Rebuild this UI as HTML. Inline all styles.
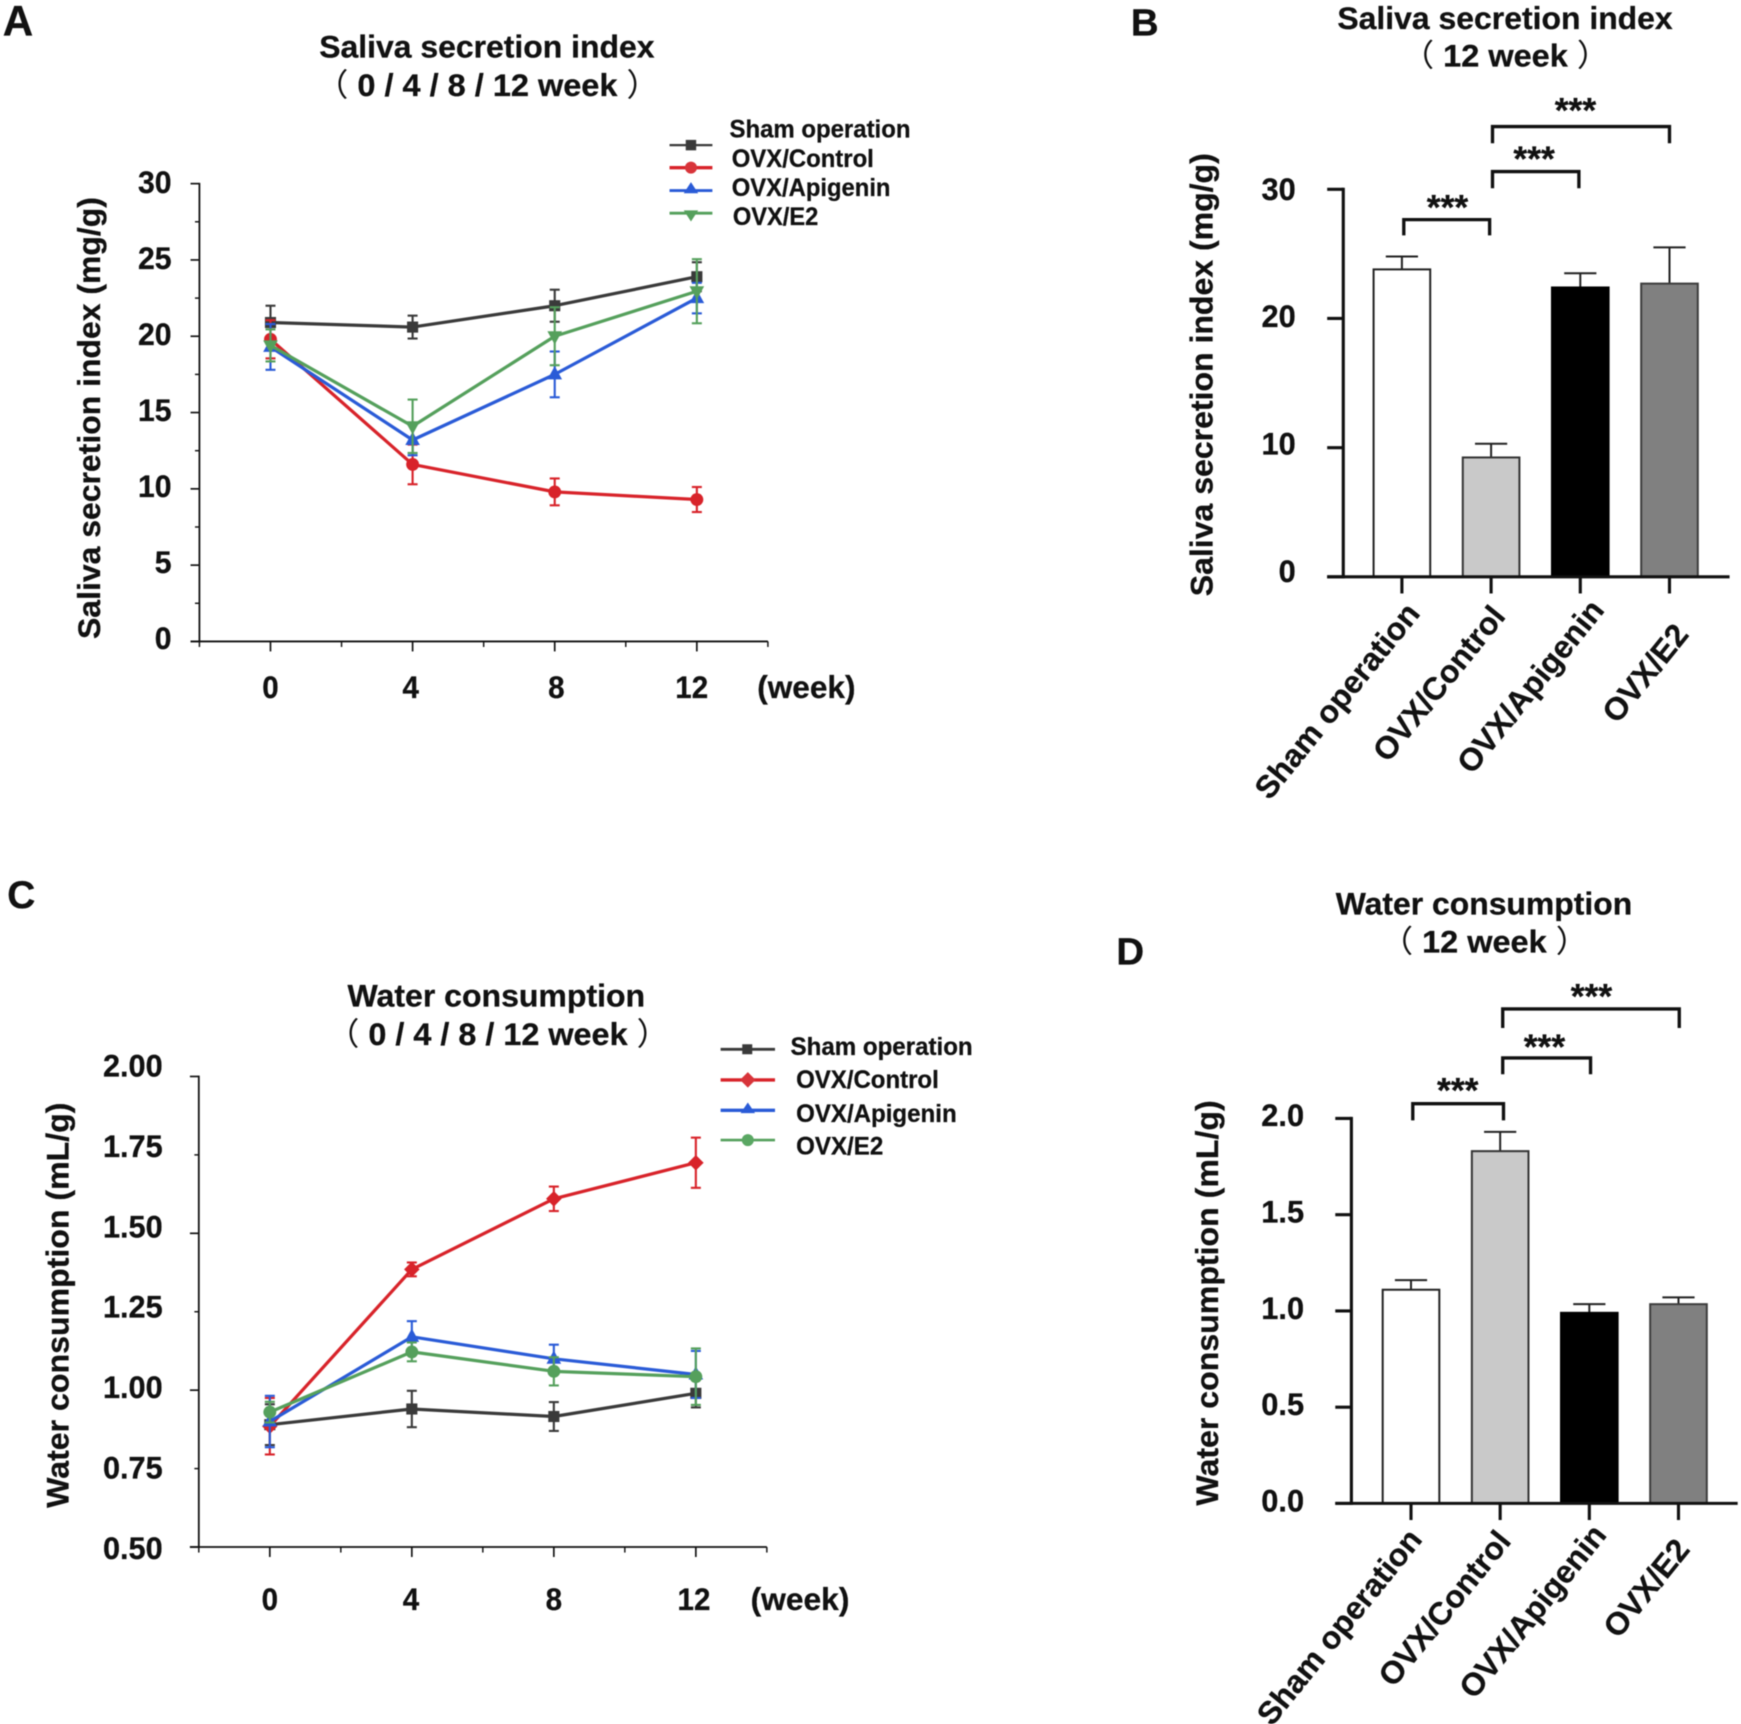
<!DOCTYPE html>
<html lang="en">
<head>
<meta charset="utf-8">
<title>Saliva secretion and water consumption</title>
<style>
html,body{margin:0;padding:0;background:#fff;}
body{width:1741px;height:1724px;overflow:hidden;}
svg{display:block;filter:blur(0.45px);}
text{font-family:"Liberation Sans","Noto Sans CJK SC",sans-serif;font-weight:bold;fill:#111;stroke:#111;stroke-width:0.25;}
tspan.paren{font-weight:normal;stroke:none;}
</style>
</head>
<body>
<svg id="figure" xmlns="http://www.w3.org/2000/svg" width="1741" height="1724" viewBox="0 0 1568 1552.7">
  <rect width="1568" height="1552.7" fill="#fff"/>

  <!-- Panel A -->
  <g id="panelA">
    <text x="2.5" y="32" font-size="38">A</text>
    <text x="287.5" y="52" font-size="28.5" textLength="302" lengthAdjust="spacingAndGlyphs">Saliva secretion index</text>
    <text x="284.5" y="86.5" font-size="28.5" textLength="309" lengthAdjust="spacingAndGlyphs"><tspan class="paren">（</tspan> 0 / 4 / 8 / 12 week <tspan class="paren">）</tspan></text>
    <text transform="translate(90 575.5) rotate(-90)" font-size="28.5" textLength="398" lengthAdjust="spacingAndGlyphs">Saliva secretion index (mg/g)</text>
    <text x="682" y="628.5" font-size="28" textLength="88.5" lengthAdjust="spacingAndGlyphs">(week)</text>
    <g>
      <g>
        <line x1="603" x2="641.6" y1="130.7" y2="130.7" stroke="#3a3a3a" stroke-width="2"/>
        <rect x="617.6" y="126" width="9.4" height="9.4" fill="#3a3a3a"/>
        <text x="657" y="124" font-size="22.5" textLength="163" lengthAdjust="spacingAndGlyphs">Sham operation</text>
      </g>
      <g>
        <line x1="603" x2="641.6" y1="151" y2="151" stroke="#d8232a" stroke-width="3"/>
        <circle cx="622.3" cy="151" r="5.4" fill="#d8343a"/>
        <text x="659" y="150.5" font-size="22.5" textLength="128" lengthAdjust="spacingAndGlyphs">OVX/Control</text>
      </g>
      <g>
        <line x1="603" x2="641.6" y1="171.6" y2="171.6" stroke="#2a5bd7" stroke-width="2.6"/>
        <path d="M622.3 164 L628.8 174 L615.8 174 Z" fill="#2a5bd7"/>
        <text x="659" y="176.5" font-size="22.5" textLength="143" lengthAdjust="spacingAndGlyphs">OVX/Apigenin</text>
      </g>
      <g>
        <line x1="603" x2="641.6" y1="192" y2="192" stroke="#55a05c" stroke-width="2.6"/>
        <path d="M622.3 199.5 L628.8 189.5 L615.8 189.5 Z" fill="#55a05c"/>
        <text x="660" y="202.6" font-size="22.5" textLength="77" lengthAdjust="spacingAndGlyphs">OVX/E2</text>
      </g>
    </g>
  </g>

  <!-- Panel B -->
  <g id="panelB">
    <text x="1018.5" y="32" font-size="34" textLength="25" lengthAdjust="spacingAndGlyphs">B</text>
    <text x="1204.5" y="26" font-size="28" textLength="302" lengthAdjust="spacingAndGlyphs">Saliva secretion index</text>
    <text x="1262.4" y="60" font-size="28" textLength="187" lengthAdjust="spacingAndGlyphs"><tspan class="paren">（</tspan> 12 week <tspan class="paren">）</tspan></text>
    <text transform="translate(1092 537) rotate(-90)" font-size="28.5" textLength="399" lengthAdjust="spacingAndGlyphs">Saliva secretion index (mg/g)</text>
    <text transform="translate(1280 553) rotate(-51)" text-anchor="end" font-size="28.5" textLength="217" lengthAdjust="spacingAndGlyphs">Sham operation</text>
    <text transform="translate(1357 555.6) rotate(-51)" text-anchor="end" font-size="28.5" textLength="170" lengthAdjust="spacingAndGlyphs">OVX/Control</text>
    <text transform="translate(1446 550) rotate(-51)" text-anchor="end" font-size="28.5" textLength="191" lengthAdjust="spacingAndGlyphs">OVX/Apigenin</text>
    <text transform="translate(1522 572) rotate(-51)" text-anchor="end" font-size="28.5" textLength="104" lengthAdjust="spacingAndGlyphs">OVX/E2</text>
    <g fill="none" stroke="#111" stroke-width="3">
      <path d="M1264.3 212 V197.8 H1341.6 V212"/>
      <path d="M1344.2 169.6 V154.5 H1422 V169.6"/>
      <path d="M1344.2 129 V114 H1503.6 V129"/>
    </g>
    <text x="1303.7" y="197.5" text-anchor="middle" font-size="32">***</text>
    <text x="1381.7" y="154" text-anchor="middle" font-size="32">***</text>
    <text x="1418.9" y="110.5" text-anchor="middle" font-size="32">***</text>
  </g>

  <!-- Panel C -->
  <g id="panelC">
    <text x="6.5" y="818" font-size="35">C</text>
    <text x="313" y="906.3" font-size="28.5" textLength="268" lengthAdjust="spacingAndGlyphs">Water consumption</text>
    <text x="294.5" y="941" font-size="28.5" textLength="308" lengthAdjust="spacingAndGlyphs"><tspan class="paren">（</tspan> 0 / 4 / 8 / 12 week <tspan class="paren">）</tspan></text>
    <text transform="translate(61.5 1358) rotate(-90)" font-size="28.5" textLength="365" lengthAdjust="spacingAndGlyphs">Water consumption (mL/g)</text>
    <text x="676" y="1450" font-size="28" textLength="89" lengthAdjust="spacingAndGlyphs">(week)</text>
    <g>
      <g>
        <line x1="649" x2="698" y1="945" y2="945" stroke="#3a3a3a" stroke-width="2.6"/>
        <rect x="668.5" y="940.5" width="9" height="9" fill="#3a3a3a"/>
        <text x="712" y="950" font-size="22.5" textLength="164" lengthAdjust="spacingAndGlyphs">Sham operation</text>
      </g>
      <g>
        <line x1="649" x2="698" y1="972.6" y2="972.6" stroke="#d8232a" stroke-width="3"/>
        <path d="M673.5 965.6 L680.5 972.6 L673.5 979.6 L666.5 972.6 Z" fill="#d8343a"/>
        <text x="717" y="979.8" font-size="22.5" textLength="128.5" lengthAdjust="spacingAndGlyphs">OVX/Control</text>
      </g>
      <g>
        <line x1="649" x2="698" y1="1000" y2="1000" stroke="#2a5bd7" stroke-width="3"/>
        <path d="M673.5 993 L680 1002.5 L667 1002.5 Z" fill="#2a5bd7"/>
        <text x="717" y="1010.7" font-size="22.5" textLength="144.6" lengthAdjust="spacingAndGlyphs">OVX/Apigenin</text>
      </g>
      <g>
        <line x1="649" x2="698" y1="1026.8" y2="1026.8" stroke="#55a05c" stroke-width="2.4"/>
        <circle cx="673.5" cy="1026.8" r="5.4" fill="#5aa763"/>
        <text x="717" y="1040" font-size="22.5" textLength="78.5" lengthAdjust="spacingAndGlyphs">OVX/E2</text>
      </g>
    </g>
  </g>

  <!-- Panel D -->
  <g id="panelD">
    <text x="1005.5" y="868.5" font-size="34" textLength="25" lengthAdjust="spacingAndGlyphs">D</text>
    <text x="1203" y="823.8" font-size="28" textLength="267" lengthAdjust="spacingAndGlyphs">Water consumption</text>
    <text x="1243.4" y="858" font-size="28" textLength="187" lengthAdjust="spacingAndGlyphs"><tspan class="paren">（</tspan> 12 week <tspan class="paren">）</tspan></text>
    <text transform="translate(1097 1356) rotate(-90)" font-size="28.5" textLength="365" lengthAdjust="spacingAndGlyphs">Water consumption (mL/g)</text>
    <text transform="translate(1282 1387) rotate(-51)" text-anchor="end" font-size="28.5" textLength="217" lengthAdjust="spacingAndGlyphs">Sham operation</text>
    <text transform="translate(1362 1388.6) rotate(-51)" text-anchor="end" font-size="28.5" textLength="170" lengthAdjust="spacingAndGlyphs">OVX/Control</text>
    <text transform="translate(1448 1383) rotate(-51)" text-anchor="end" font-size="28.5" textLength="191" lengthAdjust="spacingAndGlyphs">OVX/Apigenin</text>
    <text transform="translate(1523 1396) rotate(-51)" text-anchor="end" font-size="28.5" textLength="104" lengthAdjust="spacingAndGlyphs">OVX/E2</text>
    <g fill="none" stroke="#111" stroke-width="3">
      <path d="M1272.4 1009 V994 H1354.1 V1009"/>
      <path d="M1353.4 967.5 V952.8 H1432.5 V967.5"/>
      <path d="M1353.4 925.8 V908.7 H1512.4 V925.8"/>
    </g>
    <text x="1312.9" y="993" text-anchor="middle" font-size="32">***</text>
    <text x="1391" y="954" text-anchor="middle" font-size="32">***</text>
    <text x="1433.3" y="908.5" text-anchor="middle" font-size="32">***</text>
  </g>
</svg>

<script>
// ---- shared categories ----
const weeks = [0, 4, 8, 12];
const weekMinorTicks = [-2, 2, 6, 10, 14];

// ---- Panel A: saliva secretion time course ----
const salivaYTicks = [0, 5, 10, 15, 20, 25, 30];
const salivaYMinorTicks = [2.5, 7.5, 12.5, 17.5, 22.5, 27.5];
const salivaShamMeans = [20.9, 20.6, 22.0, 23.9];
const salivaShamErrors = [1.1, 0.75, 1.05, 0.95];
const salivaControlMeans = [19.8, 11.6, 9.8, 9.3];
const salivaControlErrors = [1.25, 1.3, 0.88, 0.82];
const salivaApigeninMeans = [19.3, 13.2, 17.5, 22.5];
const salivaApigeninErrors = [1.5, 1.0, 1.5, 1.0];
const salivaE2Means = [19.4, 14.1, 20.0, 22.95];
const salivaE2Errors = [1.05, 1.75, 1.9, 2.1];

// ---- Panel C: water consumption time course ----
const waterYTicks = [0.5, 1.0, 1.5, 2.0];
const waterYMinorTicks = [0.75, 1.25, 1.75];
const waterYLabels = [0.5, 0.75, 1.0, 1.25, 1.5, 1.75, 2.0];
const waterShamMeans = [0.89, 0.94, 0.916, 0.99];
const waterShamErrors = [0.065, 0.058, 0.046, 0.045];
const waterControlMeans = [0.885, 1.385, 1.61, 1.725];
const waterControlErrors = [0.09, 0.022, 0.039, 0.08];
const waterApigeninMeans = [0.9, 1.17, 1.1, 1.05];
const waterApigeninErrors = [0.082, 0.05, 0.045, 0.075];
const waterE2Means = [0.93, 1.122, 1.06, 1.043];
const waterE2Errors = [0.033, 0.03, 0.045, 0.09];

// ---- Panel B: saliva at 12 weeks ----
const barGroups = ['sham', 'control', 'apigenin', 'e2'];
const salivaBarTicks = [0, 10, 20, 30];
const salivaBarMeans = [23.8, 9.24, 22.4, 22.7];
const salivaBarErrors = [1.0, 1.06, 1.1, 2.8];

// ---- Panel D: water at 12 weeks ----
const waterBarTicks = [0, 0.5, 1.0, 1.5, 2.0];
const waterBarMeans = [1.11, 1.83, 0.99, 1.035];
const waterBarErrors = [0.05, 0.1, 0.045, 0.035];

const SVG_NS = 'http://www.w3.org/2000/svg';
const RED = '#d8232a', BLUE = '#2a5bd7', GREEN = '#55a05c', DARK = '#3a3a3a', INK = '#111';

function linear(d0, d1, r0, r1) {
  return function (v) { return r0 + (v - d0) / (d1 - d0) * (r1 - r0); };
}

function add(parent, tag, props, name) {
  const el = document.createElementNS(SVG_NS, tag);
  for (const k in props) el.setAttribute(k, props[k]);
  
  
  parent.appendChild(el);
  return el;
}

// size is the glyph height; squeeze narrows glyphs horizontally to the reference's proportions.
function label(parent, x, y, str, size, anchor, squeeze, name) {
  const el = add(parent, 'text', { x: x, y: y, 'font-size': size, 'text-anchor': anchor }, name);
  el.textContent = str;
  const natural = el.getComputedTextLength();
  el.setAttribute('textLength', natural * squeeze);
  el.setAttribute('lengthAdjust', 'spacingAndGlyphs');
  return el;
}

function segment(parent, x1, y1, x2, y2, color, width, name) {
  return add(parent, 'line', { x1: x1, y1: y1, x2: x2, y2: y2, stroke: color, 'stroke-width': width }, name);
}

function marker(parent, kind, cx, cy, color, name) {
  if (kind === 'square') {
    add(parent, 'rect', { x: cx - 5, y: cy - 5, width: 10, height: 10, fill: color }, name);
  } else if (kind === 'circle') {
    add(parent, 'circle', { cx: cx, cy: cy, r: 5.8, fill: color }, name);
  } else if (kind === 'diamond') {
    add(parent, 'path', { d: 'M' + cx + ' ' + (cy - 7) + 'L' + (cx + 7) + ' ' + cy + 'L' + cx + ' ' + (cy + 7) + 'L' + (cx - 7) + ' ' + cy + 'Z', fill: color }, name);
  } else if (kind === 'up') {
    add(parent, 'path', { d: 'M' + cx + ' ' + (cy - 7.5) + 'L' + (cx + 6.6) + ' ' + (cy + 4.5) + 'L' + (cx - 6.6) + ' ' + (cy + 4.5) + 'Z', fill: color }, name);
  } else {
    add(parent, 'path', { d: 'M' + cx + ' ' + (cy + 7.5) + 'L' + (cx + 6.6) + ' ' + (cy - 4.5) + 'L' + (cx - 6.6) + ' ' + (cy - 4.5) + 'Z', fill: color }, name);
  }
}

function drawLinePanel(root, cfg) {
  const x = cfg.x, y = cfg.y;
  const axes = add(root, 'g', {}, 'axes');
  segment(axes, x(-2), y(cfg.yMin) + 0.7, x(-2), y(cfg.yMax) - 0.7, INK, 1.6, 'y-axis-line');
  segment(axes, x(-2) - 8, y(cfg.yMin), x(14), y(cfg.yMin), INK, 1.6, 'x-axis-line');
  cfg.yTicks.forEach(function (v) {
    segment(axes, x(-2) - 8, y(v), x(-2), y(v), INK, 1.5, 'y-tick');
  });
  cfg.yMinor.forEach(function (v) {
    segment(axes, x(-2) - 4, y(v), x(-2), y(v), INK, 1.3, 'y-minor-tick');
  });
  weeks.forEach(function (w, i) {
    segment(axes, x(w), y(cfg.yMin), x(w), y(cfg.yMin) + 9, INK, 1.5, 'x-tick');
    label(axes, x(w) + cfg.xLabelNudge(i), cfg.xLabelY, String(w), 28, 'middle', 0.95, 'x-tick-label');
  });
  weekMinorTicks.forEach(function (w) {
    segment(axes, x(w), y(cfg.yMin), x(w), y(cfg.yMin) + 5, INK, 1.3, 'x-minor-tick');
  });
  cfg.yLabels.forEach(function (v) {
    label(axes, cfg.yLabelRight, cfg.yLabelPos(v), cfg.format(v), cfg.yLabelSize, 'end', cfg.yLabelSqueeze, 'y-tick-label');
  });

  cfg.series.forEach(function (s) {
    const g = add(root, 'g', {}, 'series-' + s.name);
    weeks.forEach(function (w, i) {
      const hi = y(s.means[i] + s.errs[i]), lo = y(s.means[i] - s.errs[i]);
      segment(g, x(w), hi, x(w), lo, s.color, 1.9, 'error-bar');
      segment(g, x(w) - 4.5, hi, x(w) + 4.5, hi, s.color, 1.9, 'error-cap');
      segment(g, x(w) - 4.5, lo, x(w) + 4.5, lo, s.color, 1.9, 'error-cap');
    });
    const pts = weeks.map(function (w, i) { return x(w) + ',' + y(s.means[i]); }).join(' ');
    add(g, 'polyline', { points: pts, fill: 'none', stroke: s.color, 'stroke-width': 2.9, 'stroke-linejoin': 'round' }, 'series-line');
    weeks.forEach(function (w, i) {
      marker(g, s.marker, x(w), y(s.means[i]), s.color, 'data-point');
    });
  });
}

function drawBarPanel(root, cfg) {
  const y = cfg.y;
  const fills = ['#ffffff', '#c9c9c9', '#000000', '#808080'];
  const strokes = ['#222', '#333', '#000', '#3c3c3c'];
  barGroups.forEach(function (group, i) {
    const g = add(root, 'g', {}, 'bar-group-' + group);
    const cx = cfg.x(i);
    const top = y(cfg.means[i]), errTop = y(cfg.means[i] + cfg.errors[i]);
    segment(g, cx, top, cx, errTop, '#222', 1.8, 'error-bar');
    segment(g, cx - 14.5, errTop, cx + 14.5, errTop, '#222', 1.8, 'error-cap');
    add(g, 'rect', { x: cx - 25.5, y: top, width: 51, height: y(0) - top, fill: fills[i], stroke: strokes[i], 'stroke-width': 1.8 }, 'bar-' + group);
  });
  const axes = add(root, 'g', {}, 'axes');
  segment(axes, cfg.axisX, y(0) + 1.4, cfg.axisX, y(cfg.yMax) - 1.4, INK, 2.8, 'y-axis-line');
  segment(axes, cfg.axisX - 14.5, y(0), cfg.axisEnd, y(0), INK, 2.8, 'x-axis-line');
  cfg.ticks.forEach(function (v) {
    segment(axes, cfg.axisX - 14.5, y(v), cfg.axisX, y(v), INK, 2.8, 'y-tick');
    label(axes, cfg.labelRight, cfg.labelPos(v), cfg.format(v), 28, 'end', 0.99, 'y-tick-label');
  });
  barGroups.forEach(function (group, i) {
    segment(axes, cfg.x(i), y(0), cfg.x(i), y(0) + 15, INK, 2.8, 'x-tick');
  });
}

drawLinePanel(document.getElementById('panelA'), {
  x: linear(0, 12, 243.6, 627.6),
  y: linear(0, 30, 577.7, 165.4),
  yMin: 0, yMax: 30,
  yTicks: salivaYTicks, yMinor: salivaYMinorTicks, yLabels: salivaYTicks,
  yLabelRight: 154.5, yLabelSize: 28, yLabelSqueeze: 0.97,
  yLabelPos: linear(0, 30, 584.5, 174),
  format: function (v) { return String(v); },
  xLabelY: 628.5,
  xLabelNudge: function (i) { return [0, -1.7, 1.5, -4.6][i]; },
  series: [
    { name: 'sham', means: salivaShamMeans, errs: salivaShamErrors, color: DARK, marker: 'square' },
    { name: 'control', means: salivaControlMeans, errs: salivaControlErrors, color: RED, marker: 'circle' },
    { name: 'apigenin', means: salivaApigeninMeans, errs: salivaApigeninErrors, color: BLUE, marker: 'up' },
    { name: 'e2', means: salivaE2Means, errs: salivaE2Errors, color: GREEN, marker: 'down' }
  ]
});

drawLinePanel(document.getElementById('panelC'), {
  x: linear(0, 12, 243, 626.7),
  y: linear(0.5, 2, 1393.3, 969.5),
  yMin: 0.5, yMax: 2,
  yTicks: waterYTicks, yMinor: waterYMinorTicks, yLabels: waterYLabels,
  yLabelRight: 146.5, yLabelSize: 28.5, yLabelSqueeze: 0.97,
  yLabelPos: linear(0.5, 2, 1404, 969.5),
  format: function (v) { return v.toFixed(2); },
  xLabelY: 1450,
  xLabelNudge: function (i) { return [0, -0.8, 0, -1.7][i]; },
  series: [
    { name: 'sham', means: waterShamMeans, errs: waterShamErrors, color: DARK, marker: 'square' },
    { name: 'control', means: waterControlMeans, errs: waterControlErrors, color: RED, marker: 'diamond' },
    { name: 'apigenin', means: waterApigeninMeans, errs: waterApigeninErrors, color: BLUE, marker: 'up' },
    { name: 'e2', means: waterE2Means, errs: waterE2Errors, color: GREEN, marker: 'circle' }
  ]
});

drawBarPanel(document.getElementById('panelB'), {
  x: linear(0, 3, 1262.6, 1503.6),
  y: linear(0, 30, 519.5, 170.5),
  yMax: 30, axisX: 1209.8, axisEnd: 1557.7,
  means: salivaBarMeans, errors: salivaBarErrors, ticks: salivaBarTicks,
  labelRight: 1167,
  labelPos: linear(0, 30, 524, 180),
  format: function (v) { return String(v); }
});

drawBarPanel(document.getElementById('panelD'), {
  x: linear(0, 3, 1270.8, 1511.7),
  y: linear(0, 2, 1354, 1007.3),
  yMax: 2, axisX: 1217.1, axisEnd: 1565,
  means: waterBarMeans, errors: waterBarErrors, ticks: waterBarTicks,
  labelRight: 1174.5,
  labelPos: linear(0, 2, 1361.5, 1014),
  format: function (v) { return v.toFixed(1); }
});
</script>
</body>
</html>
